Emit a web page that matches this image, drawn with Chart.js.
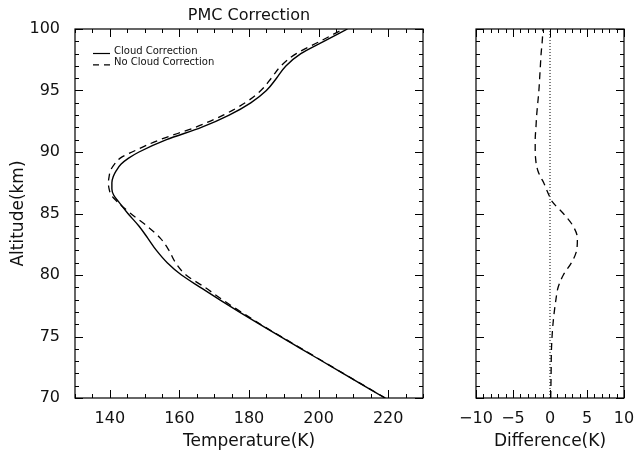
<!DOCTYPE html>
<html>
<head>
<meta charset="utf-8">
<script src="https://cdn.jsdelivr.net/npm/chart.js@4.4.1/dist/chart.umd.min.js"></script>
<style>
  html, body { margin: 0; padding: 0; background: #fff; overflow: hidden; }
  #wrap { position: relative; width: 634px; height: 452px; }
  canvas { position: absolute; top: 0; }
  #tempChart { left: 0; }
  #diffChart { left: 445px; }
</style>
</head>
<body>
<div id="wrap">
  <canvas id="tempChart" width="445" height="452"></canvas>
  <canvas id="diffChart" width="189" height="452"></canvas>
</div>
<script>
// values, altitude in km
const altitude = [70, 72, 74, 76, 78, 79, 80, 81, 82, 83, 84, 85, 86, 86.5, 87, 87.5, 88, 88.5, 89, 89.5, 90, 91, 92, 93, 94, 95, 96, 97, 98, 99, 100];
const cloudTemp = [219.1, 207.0, 195.0, 183.0, 171.5, 166.0, 160.6, 156.5, 153.4, 150.9, 148.3, 145.2, 142.4, 141.1, 140.6, 140.6, 141.0, 141.9, 143.2, 145.4, 148.4, 156.3, 166.3, 174.3, 180.5, 185.0, 187.9, 190.6, 194.9, 201.5, 208.3];
const noCloudTemp = [219.2, 207.1, 195.2, 183.3, 172.3, 167.3, 161.9, 158.9, 157.0, 154.5, 150.6, 146.0, 142.0, 140.4, 139.8, 139.6, 139.8, 140.2, 141.3, 143.0, 146.4, 154.4, 164.5, 172.6, 178.9, 183.4, 186.4, 189.2, 193.6, 200.4, 207.2];
const tempDiff = [0.1, 0.15, 0.2, 0.4, 0.8, 1.1, 1.8, 2.9, 3.6, 3.7, 3.1, 1.8, 0.25, -0.15, -0.5, -0.85, -1.3, -1.65, -1.85, -1.95, -2.0, -2.0, -1.9, -1.8, -1.65, -1.5, -1.4, -1.3, -1.2, -1.05, -0.95];
const zeroLine = [70, 100];

const tempTicks = [140, 160, 180, 200, 220];
const diffTicks = [-10, -5, 0, 5, 10];
const altTicks = [70, 75, 80, 85, 90, 95, 100];

Chart.defaults.font.family = '"DejaVu Sans", sans-serif';
Chart.defaults.color = '#111';

function points(xs) {
    return altitude.map((a, i) => ({ x: xs[i], y: a }));
}

function setTicks(list) {
    return function(scale) {
        scale.ticks = list.map(v => ({ value: v }));
    };
}

// box with inward ticks on all four sides
function idlFrame(xStep, xMajor, yStep, yMajor) {
    return {
        id: 'idlFrame',
        afterDatasetsDraw(chart) {
            const ctx = chart.ctx, a = chart.chartArea;
            const x = chart.scales.x, y = chart.scales.y;
            const major = (v, m) => Math.abs(v / m - Math.round(v / m)) < 1e-6;
            ctx.save();
            ctx.strokeStyle = '#000';
            ctx.lineWidth = 1.2;
            ctx.strokeRect(a.left, a.top, a.right - a.left, a.bottom - a.top);
            ctx.lineWidth = 1;
            ctx.beginPath();
            for (let v = x.min; v <= x.max + 1e-6; v += xStep) {
                const px = Math.round(x.getPixelForValue(v)) + 0.5;
                const len = major(v, xMajor) ? 8 : 4;
                ctx.moveTo(px, a.bottom); ctx.lineTo(px, a.bottom - len);
                ctx.moveTo(px, a.top); ctx.lineTo(px, a.top + len);
            }
            for (let v = y.min; v <= y.max + 1e-6; v += yStep) {
                const py = Math.round(y.getPixelForValue(v)) + 0.5;
                const len = major(v, yMajor) ? 8 : 4;
                ctx.moveTo(a.left, py); ctx.lineTo(a.left + len, py);
                ctx.moveTo(a.right, py); ctx.lineTo(a.right - len, py);
            }
            ctx.stroke();
            ctx.restore();
        }
    };
}

const legendInside = {
    id: 'legendInside',
    afterDatasetsDraw(chart) {
        const ctx = chart.ctx, a = chart.chartArea;
        ctx.save();
        ctx.font = '10px "DejaVu Sans"';
        ctx.fillStyle = '#111';
        ctx.strokeStyle = '#000';
        ctx.lineWidth = 1.2;
        ctx.textBaseline = 'middle';
        chart.data.datasets.forEach((ds, i) => {
            const yy = a.top + 22 + i * 11.3;
            ctx.setLineDash(ds.legendDash || []);
            ctx.beginPath();
            ctx.moveTo(a.left + 18, yy + 2.5);
            ctx.lineTo(a.left + 35, yy + 2.5);
            ctx.stroke();
            ctx.setLineDash([]);
            ctx.fillText(ds.label, a.left + 39, yy);
        });
        ctx.restore();
    }
};

function fixX(s) {
    s.height = 54;
    s.paddingLeft = 0;
    s.paddingRight = 0;
}

const common = {
    responsive: false,
    devicePixelRatio: 1,
    animation: false,
    indexAxis: 'y',
    plugins: { legend: { display: false }, tooltip: { enabled: false } },
    elements: { point: { radius: 0 }, line: { cubicInterpolationMode: 'monotone' } }
};

new Chart(document.getElementById('tempChart'), {
    type: 'line',
    data: {
        datasets: [{
            label: 'Cloud Correction',
            data: points(cloudTemp),
            borderColor: '#000',
            borderWidth: 1.4
        }, {
            label: 'No Cloud Correction',
            data: points(noCloudTemp),
            borderColor: '#000',
            borderWidth: 1.3,
            borderDash: [7, 5],
            legendDash: [6, 5]
        }]
    },
    options: Object.assign({}, common, {
        layout: { autoPadding: false, padding: { left: 0, right: 22, top: 0, bottom: 0 } },
        plugins: {
            legend: { display: false },
            tooltip: { enabled: false },
            title: {
                display: true,
                text: 'PMC Correction',
                fullSize: false,
                color: '#111',
                font: { size: 16, weight: 'normal', lineHeight: 1.25 },
                padding: { top: 6, bottom: 3 }
            }
        },
        scales: {
            x: {
                type: 'linear', min: 130, max: 230,
                afterBuildTicks: setTicks(tempTicks),
                afterFit: fixX,
                grid: { display: false }, border: { display: false },
                ticks: { font: { size: 16 }, padding: 3, maxRotation: 0, minRotation: 0, autoSkip: false },
                title: { display: true, text: 'Temperature(K)', font: { size: 17 }, padding: { top: 0, bottom: 0 } }
            },
            y: {
                type: 'linear', min: 70, max: 100,
                afterBuildTicks: setTicks(altTicks),
                afterFit(s) { s.width = 75; },
                grid: { display: false }, border: { display: false },
                ticks: { font: { size: 16 }, padding: 7 },
                title: { display: true, text: 'Altitude(km)', font: { size: 17 }, padding: { top: 8, bottom: 0 } }
            }
        }
    }),
    plugins: [idlFrame(5, 20, 1, 5), legendInside]
});

new Chart(document.getElementById('diffChart'), {
    type: 'line',
    data: {
        datasets: [{
            label: 'Difference',
            data: points(tempDiff),
            borderColor: '#000',
            borderWidth: 1.3,
            borderDash: [7, 5]
        }, {
            label: 'Zero',
            data: zeroLine.map(a => ({ x: 0, y: a })),
            borderColor: '#000',
            borderWidth: 1,
            borderDash: [1, 2]
        }]
    },
    options: Object.assign({}, common, {
        layout: { autoPadding: false, padding: { left: 0, right: 10, top: 29, bottom: 0 } },
        scales: {
            x: {
                type: 'linear', min: -10, max: 10,
                afterBuildTicks: setTicks(diffTicks),
                afterFit: fixX,
                grid: { display: false }, border: { display: false },
                ticks: {
                    font: { size: 16 }, padding: 3, maxRotation: 0, minRotation: 0, autoSkip: false,
                    callback: v => String(v).replace('-', '\u2212')
                },
                title: { display: true, text: 'Difference(K)', font: { size: 17 }, padding: { top: 0, bottom: 0 } }
            },
            y: {
                type: 'linear', min: 70, max: 100,
                afterBuildTicks: setTicks(altTicks),
                afterFit(s) { s.width = 31; },
                grid: { display: false }, border: { display: false },
                ticks: { display: false }
            }
        }
    }),
    plugins: [idlFrame(1, 5, 1, 5)]
});
</script>
</body>
</html>
